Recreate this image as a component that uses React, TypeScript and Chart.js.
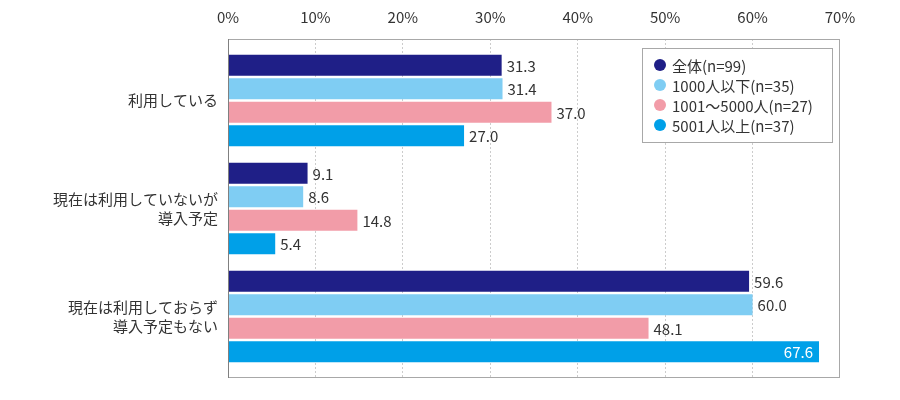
import { useEffect, useRef } from 'react';
import Chart from 'chart.js/auto';

const categories = [['利用している'], ['現在は利用していないが', '導入予定'], ['現在は利用しておらず', '導入予定もない']];
const seriesNames = ['全体(n=99)', '1000人以下(n=35)', '1001～5000人(n=27)', '5001人以上(n=37)'];
const seriesColors = ['#1f1f87', '#7fcdf3', '#f29ca8', '#00a0e8'];
const allValues = [31.3, 9.1, 59.6];
const under1000 = [31.4, 8.6, 60.0];
const mid1001to5000 = [37.0, 14.8, 48.1];
const over5001 = [27.0, 5.4, 67.6];
const xTicks = [0, 10, 20, 30, 40, 50, 60, 70];

const FONT = '"Noto Sans CJK JP", "Noto Sans", sans-serif';
const TEXT = '#333333';

// ラベル、枠線、凡例
const decorPlugin = {
  id: 'decor',
  afterDatasetsDraw(chart: any) {
    const { ctx, chartArea: a } = chart;
    ctx.save();
    // 枠
    ctx.strokeStyle = '#a8a8a8';
    ctx.lineWidth = 1;
    ctx.strokeRect(a.left + 0.5, a.top + 0.5, a.right - a.left - 1, a.bottom - a.top - 1);
    ctx.strokeStyle = '#808080';
    ctx.beginPath();
    ctx.moveTo(a.left + 0.5, a.top);
    ctx.lineTo(a.left + 0.5, a.bottom);
    ctx.stroke();

    // 値ラベル
    ctx.font = `15px ${FONT}`;
    ctx.textBaseline = 'middle';
    chart.data.datasets.forEach((ds: any, di: number) => {
      const meta = chart.getDatasetMeta(di);
      meta.data.forEach((bar: any, i: number) => {
        const v = ds.data[i];
        const label = v.toFixed(1);
        const w = ctx.measureText(label).width;
        if (bar.x + 6 + w > a.right) {
          ctx.fillStyle = '#ffffff';
          ctx.textAlign = 'right';
          ctx.fillText(label, bar.x - 6, bar.y + 1);
        } else {
          ctx.fillStyle = TEXT;
          ctx.textAlign = 'left';
          ctx.fillText(label, bar.x + 5, bar.y + 1);
        }
      });
    });

    // 凡例
    const lx = 642, ly = 48, lw = 190, lh = 94;
    ctx.fillStyle = '#ffffff';
    ctx.fillRect(lx, ly, lw, lh);
    ctx.strokeStyle = '#a8a8a8';
    ctx.strokeRect(lx + 0.5, ly + 0.5, lw, lh);
    ctx.textAlign = 'left';
    seriesNames.forEach((name, i) => {
      const y = ly + 17 + i * 20;
      ctx.fillStyle = seriesColors[i];
      ctx.beginPath();
      ctx.arc(lx + 18, y, 6, 0, Math.PI * 2);
      ctx.fill();
      ctx.fillStyle = TEXT;
      ctx.fillText(name, lx + 30, y + 1);
    });
    ctx.restore();
  },
};

export default function App() {
  const canvasRef = useRef<HTMLCanvasElement>(null);

  useEffect(() => {
    if (!canvasRef.current) return;
    const chart = new Chart(canvasRef.current, {
      type: 'bar',
      data: {
        labels: categories,
        datasets: [allValues, under1000, mid1001to5000, over5001].map((data, i) => ({
          label: seriesNames[i],
          data,
          backgroundColor: seriesColors[i],
          borderWidth: 0,
          categoryPercentage: 0.87,
          barPercentage: 0.89,
        })),
      },
      options: {
        indexAxis: 'y',
        animation: false,
        responsive: false,
        devicePixelRatio: 1,
        layout: { padding: { top: 0, right: 60, bottom: 22, left: 0 } },
        plugins: {
          legend: { display: false },
          tooltip: { enabled: false },
        },
        scales: {
          x: {
            position: 'top',
            min: 0,
            max: 70,
            afterFit: (s: any) => { s.height = 39; },
            afterBuildTicks: (s: any) => { s.ticks = xTicks.map((value) => ({ value })); },
            ticks: {
              padding: 13,
              color: TEXT,
              font: { family: FONT, size: 15 },
              callback: (v: any) => `${v}%`,
            },
            grid: {
              drawTicks: false,
              color: (c: any) => (c.tick && c.tick.value > 0 && c.tick.value < 70 ? '#cccccc' : 'rgba(0,0,0,0)'),
            },
            border: { display: false, dash: [2, 2] },
          },
          y: {
            afterFit: (s: any) => { s.width = 228; },
            afterBuildTicks: (s: any) => {
              const d = (339 / 108 - 3) / 2;
              s._startValue = -0.5 - d;
              s._valueRange = 3 + 2 * d;
            },
            ticks: {
              padding: 2,
              color: TEXT,
              font: { family: FONT, size: 15, lineHeight: 1.25 },
            },
            grid: { display: false },
            border: { display: false },
          },
        },
      },
      plugins: [decorPlugin],
    });
    return () => chart.destroy();
  }, []);

  return (
    <div style={{ position: 'fixed', left: 0, top: 0, width: 900, height: 400, background: '#ffffff' }}>
      <canvas ref={canvasRef} width={900} height={400} />
    </div>
  );
}
